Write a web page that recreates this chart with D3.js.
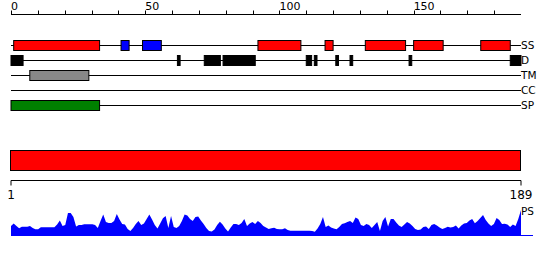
<!DOCTYPE html>
<html>
<head>
<meta charset="utf-8">
<script src="https://cdn.jsdelivr.net/npm/d3@7/dist/d3.min.js"></script>
<style>
body { margin: 0; background: #fff; }
text { font-family: "DejaVu Sans", sans-serif; fill: #000; }
</style>
</head>
<body>
<script>
// sequence feature plot: secondary structure, disorder, TM, CC, SP, domain bar, profile

seq_len = 189;
top_ticks = d3.range(0, 190, 10);
top_labels = [0, 50, 100, 150];

track_names = ['SS', 'D', 'TM', 'CC', 'SP'];

// [start, end] in residues
helices = [[1,33],[92,108],[117,120],[132,147],[150,161],[175,186]];
strands = [[41,44],[49,56]];
disorder = [[0,4.5],[62,63],[72,78],[79,91],[110,112],[113,114],[121,122],[126.3,127.3],[148.3,149.3],[186,190]];
tm_segs = [[7,29]];
cc_segs = [];
sp_segs = [[0,33]];
domains = [[1,189]];

// profile score per residue 1..189
ps = [9,11.5,9,6.7,8.3,8.3,8.3,9,7,5.7,
	5.7,7.7,7.7,7.7,7.7,7.7,7.7,10.5,14.5,9,
	10,22,22,18,8.5,10,10,10.7,10.7,10.7,
	10.7,10,7,14,20.5,13,12,12,14,21,
	15.5,11,10.5,6,4,7,11,14,10,11.5,
	16,20.5,15.5,10,6.5,11.5,16.7,19,7,19,
	8,7,9,14,20.5,19.5,16,14,18,18.5,
	14.5,11,7,4,3.5,5.5,10,13.3,10.5,6.5,
	3.5,7.5,11,11,10,12,16,9,11.5,13,
	11,14,12,9,7.5,6,6.7,7.2,6,5.7,
	5.7,6.7,5,4.3,4.3,4.3,4.3,4.3,4.3,4.3,
	4.3,4,3.3,6.5,11,18,8,9.5,7.5,6.5,
	5.7,8,11,11.7,13,14,12,17.5,16,10,
	9,11,10,7,10,13,4,14,18,8.5,
	16,16,12.5,9.5,8,10.5,13,11.5,9,6,
	5,5.5,8,8.5,6,10,11,9.5,7.5,6,
	7,8.3,7.5,8,9.5,6.5,9.5,11.5,12,14.5,
	16,11.7,14,17,20,15,11.5,9,11,17,
	15,11,11.3,10.5,8,10.5,9,16,25];

width = 550;
height = 260;

svg = d3.select('body').append('svg')
	.attr('width', width)
	.attr('height', height);

xScale = d3.scaleLinear()
	.domain([0, 190])
	.range([11, 521]);
resScale = d3.scaleLinear()
	.domain([1, seq_len])
	.range([11, 521]);
psScale = d3.scaleLinear()
	.domain([0, 25])
	.range([235, 210]);

// top axis
axis_y = 14.5;
svg.append('line')
	.attr('x1', xScale(0)).attr('x2', xScale(190))
	.attr('y1', axis_y).attr('y2', axis_y)
	.attr('stroke', 'black');
svg.selectAll('line.tick')
	.data(top_ticks)
	.enter().append('line')
	.attr('class', 'tick')
	.attr('x1', d => Math.round(xScale(d)) + 0.5)
	.attr('x2', d => Math.round(xScale(d)) + 0.5)
	.attr('y1', axis_y - 4)
	.attr('y2', axis_y)
	.attr('stroke', 'black');
svg.selectAll('text.toplab')
	.data(top_labels)
	.enter().append('text')
	.attr('class', 'toplab')
	.attr('x', d => xScale(d))
	.attr('y', 10)
	.attr('font-size', 11)
	.text(d => d);

// feature tracks
track_y = d3.scalePoint()
	.domain(track_names)
	.range([45.5, 105.5]);

svg.selectAll('line.track')
	.data(track_names)
	.enter().append('line')
	.attr('class', 'track')
	.attr('x1', xScale(0)).attr('x2', xScale(190))
	.attr('y1', d => track_y(d)).attr('y2', d => track_y(d))
	.attr('stroke', 'black');
svg.selectAll('text.tracklab')
	.data(track_names)
	.enter().append('text')
	.attr('class', 'tracklab')
	.attr('x', 521)
	.attr('y', d => track_y(d))
	.attr('dy', '0.36em')
	.attr('font-size', 10.5)
	.text(d => d);

function boxes(data, track, fill) {
	svg.append('g')
		.selectAll('rect')
		.data(data)
		.enter().append('rect')
		.attr('x', d => xScale(d[0]))
		.attr('width', d => xScale(d[1]) - xScale(d[0]))
		.attr('y', track_y(track) - 5)
		.attr('height', 10)
		.attr('fill', fill)
		.attr('stroke', 'black')
		.attr('stroke-width', 1);
}
boxes(helices, 'SS', '#ff0000');
boxes(strands, 'SS', '#0000ff');
boxes(disorder, 'D', '#000000');
boxes(tm_segs, 'TM', '#888888');
boxes(cc_segs, 'CC', '#ffff00');
boxes(sp_segs, 'SP', '#008000');

// domain bar
svg.selectAll('rect.domain')
	.data(domains)
	.enter().append('rect')
	.attr('class', 'domain')
	.attr('x', d => resScale(d[0]) - 0.5)
	.attr('width', d => resScale(d[1]) - resScale(d[0]))
	.attr('y', 150.5)
	.attr('height', 20)
	.attr('fill', '#ff0000')
	.attr('stroke', 'black');

// ruler
ruler_y = 180.5;
svg.append('line')
	.attr('x1', resScale(1)).attr('x2', resScale(seq_len))
	.attr('y1', ruler_y).attr('y2', ruler_y)
	.attr('stroke', 'black');
svg.selectAll('line.rtick')
	.data([1, seq_len])
	.enter().append('line')
	.attr('class', 'rtick')
	.attr('x1', d => resScale(d)).attr('x2', d => resScale(d))
	.attr('y1', ruler_y).attr('y2', ruler_y + 5)
	.attr('stroke', 'black');
svg.selectAll('text.rlab')
	.data([1, seq_len])
	.enter().append('text')
	.attr('class', 'rlab')
	.attr('x', d => resScale(d))
	.attr('y', 199)
	.attr('text-anchor', 'middle')
	.attr('font-size', 12)
	.text(d => d);

// profile
area = d3.area()
	.x((d, i) => resScale(i + 1))
	.y0(psScale(0))
	.y1(d => psScale(d));
svg.append('path')
	.attr('d', area(ps))
	.attr('fill', '#0000ff');
svg.append('line')
	.attr('x1', resScale(1)).attr('x2', 533)
	.attr('y1', 235.5).attr('y2', 235.5)
	.attr('stroke', '#0000ff');
svg.append('text')
	.attr('x', 521)
	.attr('y', 215)
	.attr('font-size', 10.5)
	.text('PS');
</script>
</body>
</html>
